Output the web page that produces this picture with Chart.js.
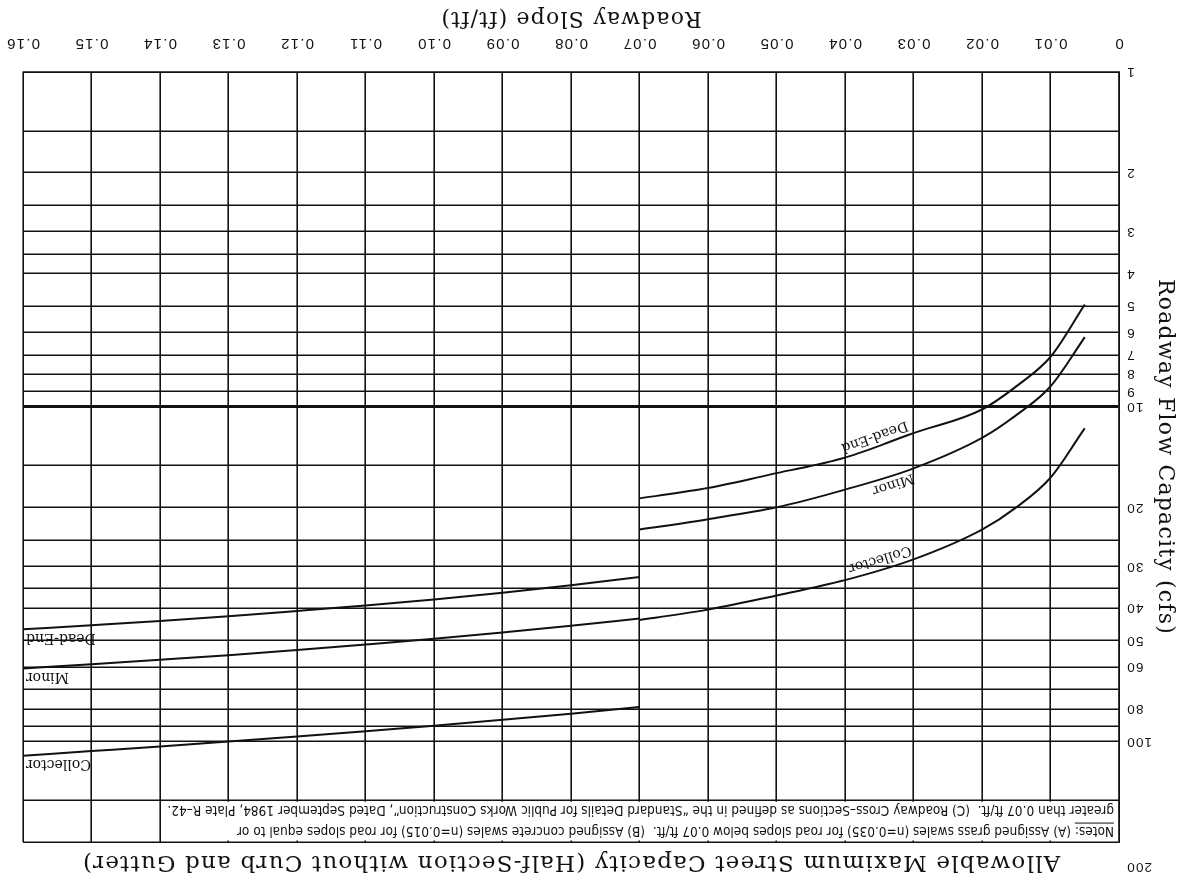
<!DOCTYPE html>
<html><head><meta charset="utf-8">
<script src="https://cdn.jsdelivr.net/npm/chart.js@4/dist/chart.umd.min.js"></script>
<style>
html,body{margin:0;padding:0;background:#fff;}
#wrap{width:1184px;height:884px;transform:rotate(180deg);transform-origin:50% 50%;}
canvas{display:block;}
</style></head><body>
<div id="wrap"><canvas id="c" width="1184" height="884"></canvas></div>
<script>
// ---- axes ----
const xTickValues = [0,0.01,0.02,0.03,0.04,0.05,0.06,0.07,0.08,0.09,0.10,0.11,0.12,0.13,0.14,0.15,0.16];
const xTickLabels = ['0','0.01','0.02','0.03','0.04','0.05','0.06','0.07','0.08','0.09','0.10','0.11','0.12','0.13','0.14','0.15','0.16'];
const yGridValues = [1,1.5,2,2.5,3,3.5,4,5,6,7,8,9,10,15,20,25,30,35,40,50,60,70,80,90,100,150,200];
const yTickLabels = [1,2,3,4,5,6,7,8,9,10,20,30,40,50,60,80,100,200];

// ---- grass swales (slopes below 0.07) ----
const slopeGrass     = [0.005,0.01,0.015,0.02,0.03,0.04,0.05,0.06,0.07];
const deadEndGrass   = [4.95, 7.1, 8.7, 10.2, 12.0, 14.2, 15.8, 17.5, 18.8];
const minorGrass     = [6.2, 8.7, 10.6, 12.4, 15.3, 17.7, 20.0, 21.7, 23.3];
const collectorGrass = [11.6, 16.3, 20.0, 23.3, 28.6, 33.0, 36.7, 40.4, 43.4];

// ---- concrete swales (slopes 0.07 and above) ----
const slopeConcrete     = [0.07,0.08,0.09,0.10,0.11,0.12,0.13,0.14,0.15,0.16];
const deadEndConcrete   = [32.3, 34.2, 36.0, 37.7, 39.3, 40.8, 42.3, 43.7, 45.0, 46.3];
const minorConcrete     = [43.0, 45.2, 47.3, 49.4, 51.4, 53.4, 55.3, 57.1, 58.9, 60.6];
const collectorConcrete = [79.0, 82.7, 86.3, 89.8, 93.3, 96.8, 100.2, 103.6, 107.0, 110.5];

const titleText = 'Allowable Maximum Street Capacity (Half-Section without Curb and Gutter)';
const xTitle = 'Roadway Slope (ft/ft)';
const yTitle = 'Roadway Flow Capacity (cfs)';
const notesLines = [
  ['Notes:', ' (A) Assigned grass swales (n=0.035) for road slopes below 0.07 ft/ft.  (B) Assigned concrete swales (n=0.015) for road slopes equal to or'],
  ['', 'greater than 0.07 ft/ft.  (C) Roadway Cross\u2013Sections as defined in the \u201CStandard Details for Public Works Construction\u201D, Dated September 1984, Plate R\u201342.']
];

const INK = '#111';
const serif = "'DejaVu Serif', 'Liberation Serif', serif";
const sans = "'Liberation Sans', Arial, sans-serif";
const narrow = "'Liberation Sans Narrow', 'DejaVu Sans Condensed', 'Liberation Sans', sans-serif";

function pts(xs, ys){ return xs.map((x,i)=>({x:x, y:ys[i]})); }
function valueAt(xs, ys, x){
  for (let i=0;i<xs.length-1;i++){
    if (x>=xs[i] && x<=xs[i+1]){
      const t=(x-xs[i])/(xs[i+1]-xs[i]);
      return Math.pow(10, Math.log10(ys[i])*(1-t)+Math.log10(ys[i+1])*t);
    }
  }
  return ys[ys.length-1];
}
function ds(label, xs, ys){
  return {label:label, data:pts(xs,ys), borderColor:INK, borderWidth:2, pointRadius:0,
          cubicInterpolationMode:'monotone', fill:false};
}

const curveLabels = [
  {text:'Dead-End',  xs:slopeGrass, ys:deadEndGrass,   at:0.0352, side:-1},
  {text:'Minor',     xs:slopeGrass, ys:minorGrass,     at:0.0334, side: 1},
  {text:'Collector', xs:slopeGrass, ys:collectorGrass, at:0.0345, side:-1}
];
const edgeLabels = [
  {text:'Dead-End',  xs:slopeConcrete, ys:deadEndConcrete},
  {text:'Minor',     xs:slopeConcrete, ys:minorConcrete},
  {text:'Collector', xs:slopeConcrete, ys:collectorConcrete}
];
const notesBox = {x0:0, x1:0.14, y0:150, y1:200};

const spacing = {
  id:'spacing',
  beforeDraw(chart){ chart.ctx.letterSpacing = '1.2px'; }
};

const annot = {
  id:'annot',
  beforeDatasetsDraw(chart){
    const {ctx, scales:{x, y}} = chart;
    const l=x.getPixelForValue(notesBox.x0), r=x.getPixelForValue(notesBox.x1);
    const t=y.getPixelForValue(notesBox.y1), b=y.getPixelForValue(notesBox.y0);
    ctx.save();
    ctx.letterSpacing = '0px';
    ctx.fillStyle='#fff';
    ctx.fillRect(l+1.5, t+1.5, r-l-3, b-t-3);
    ctx.fillStyle=INK; ctx.strokeStyle=INK;
    ctx.font = '13.5px ' + narrow;
    ctx.textBaseline='middle'; ctx.textAlign='left';
    const lh = (b-t)/2;
    notesLines.forEach((ln, i)=>{
      const yy = t + lh*(i+0.5) + 1;
      let xx = l + 5;
      const maxW = r - l - 8;
      if (ln[0]){
        ctx.fillText(ln[0], xx, yy);
        const w = ctx.measureText(ln[0]).width;
        ctx.lineWidth=1;
        ctx.beginPath(); ctx.moveTo(xx, yy+7.5); ctx.lineTo(xx+w, yy+7.5); ctx.stroke();
        xx += w;
      }
      ctx.fillText(ln[1], xx, yy, maxW - (xx - l - 5));
    });
    ctx.restore();
  },
  afterDatasetsDraw(chart){
    const {ctx, scales:{x, y}} = chart;
    ctx.save();
    ctx.letterSpacing = '0px';
    ctx.fillStyle=INK;
    ctx.font = '14px ' + serif;
    curveLabels.forEach(c=>{
      const px = x.getPixelForValue(c.at), py = y.getPixelForValue(valueAt(c.xs,c.ys,c.at));
      const ax = x.getPixelForValue(c.at-0.005), ay = y.getPixelForValue(valueAt(c.xs,c.ys,c.at-0.005));
      const bx = x.getPixelForValue(c.at+0.005), by = y.getPixelForValue(valueAt(c.xs,c.ys,c.at+0.005));
      const ang = Math.atan2(by-ay, bx-ax);
      ctx.save();
      ctx.translate(px, py); ctx.rotate(ang);
      ctx.textAlign='center';
      if (c.side>0){ ctx.textBaseline='bottom'; ctx.fillText(c.text, 0, -2); }
      else { ctx.textBaseline='top'; ctx.fillText(c.text, 0, 3); }
      ctx.restore();
    });
    edgeLabels.forEach(c=>{
      const xr = x.getPixelForValue(0.16) - 3;
      const py = y.getPixelForValue(valueAt(c.xs,c.ys,0.155));
      ctx.textAlign='right'; ctx.textBaseline='bottom';
      ctx.fillText(c.text, xr, py - 3);
    });
    ctx.restore();
  }
};

new Chart(document.getElementById('c'), {
  type:'line',
  data:{datasets:[
    ds('Dead-End', slopeGrass, deadEndGrass),
    ds('Minor', slopeGrass, minorGrass),
    ds('Collector', slopeGrass, collectorGrass),
    ds('Dead-End', slopeConcrete, deadEndConcrete),
    ds('Minor', slopeConcrete, minorConcrete),
    ds('Collector', slopeConcrete, collectorConcrete)
  ]},
  options:{
    responsive:false, animation:false, devicePixelRatio:1,
    layout:{padding:{left:0, right:23, top:0, bottom:0}},
    plugins:{
      legend:{display:false}, tooltip:{enabled:false},
      title:{display:true, text:titleText, color:INK, fullSize:false,
             font:{family:serif, size:23, weight:'normal', lineHeight:1.1}, padding:{top:9.4, bottom:7.3}}
    },
    scales:{
      x:{type:'linear', min:0, max:0.16,
         afterBuildTicks:(s)=>{ s.ticks = xTickValues.map(v=>({value:v})); },
         afterFit:(s)=>{ s.height = 72; },
         ticks:{autoSkip:false, maxRotation:0, minRotation:0, padding:2, color:INK,
                font:{family:sans, size:15, lineHeight:3.6}, callback:(v,i)=>xTickLabels[i]},
         grid:{color:INK, lineWidth:1.6, drawTicks:false},
         border:{display:true, color:INK, width:1.6},
         title:{display:true, text:xTitle, color:INK, font:{family:serif, size:22, lineHeight:1.1}, padding:{top:0, bottom:6}}
      },
      y:{type:'logarithmic', min:1, max:200,
         afterBuildTicks:(s)=>{ s.ticks = yGridValues.map(v=>({value:v})); },
         afterFit:(s)=>{ s.width = 65; },
         ticks:{autoSkip:false, padding:7, color:INK, font:{family:sans, size:13.5},
                callback:(v)=> v===200 ? ['200','','',''] : (yTickLabels.includes(v) ? String(v) : '')},
         grid:{color:INK, drawTicks:false,
               lineWidth:(c)=> (c.tick && c.tick.value===10) ? 3 : 1.5},
         border:{display:true, color:INK, width:1.6},
         title:{display:true, text:yTitle, color:INK, font:{family:serif, size:22, lineHeight:1.1}, padding:{top:7, bottom:0}}
      }
    }
  },
  plugins:[spacing, annot]
});
</script>
</body></html>
